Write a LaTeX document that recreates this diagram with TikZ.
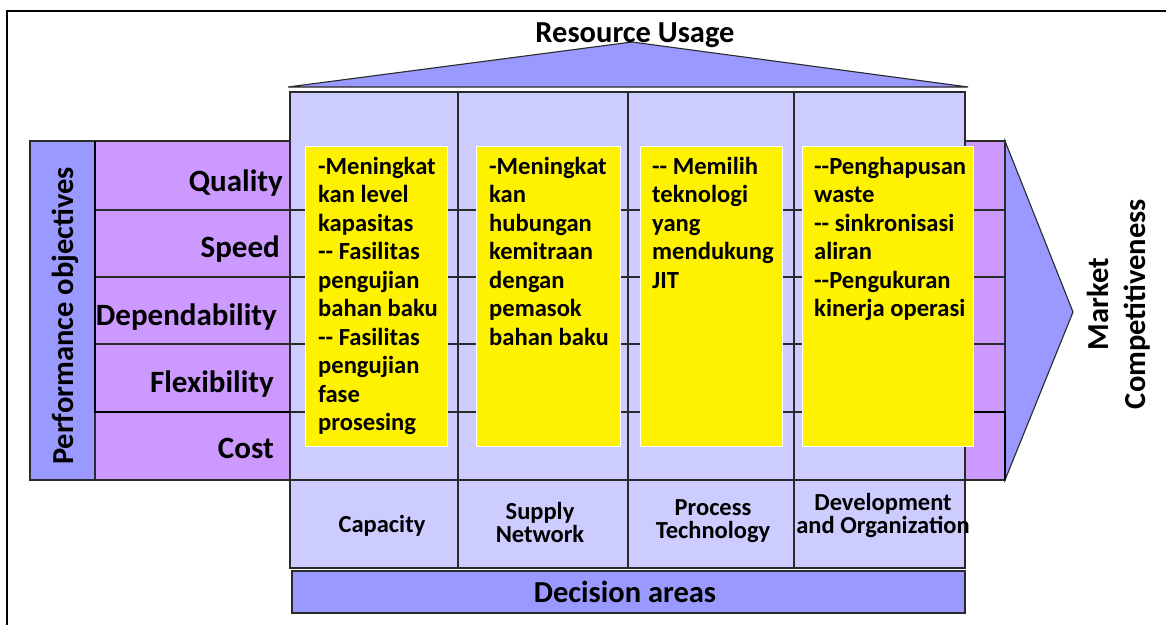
\documentclass[tikz,border=0pt]{standalone}
\usepackage{fontspec}
\setmainfont{Carlito}[Ligatures=TeXOff]
\definecolor{hqblue}{HTML}{9999FF}
\definecolor{hqpurple}{HTML}{CC99FF}
\definecolor{hqlav}{HTML}{CCCCFF}
\definecolor{hqline}{HTML}{2A2A2A}
\begin{document}
\begin{tikzpicture}[x=1pt,y=-1pt,line join=miter,
  edge/.style={draw=hqline,line width=1.1pt},
  heavy/.style={draw=black,line width=2.6pt},
  bigtxt/.style={font=\bfseries\fontsize{30.5}{36}\selectfont,inner sep=0pt},
  rowtxt/.style={font=\bfseries\fontsize{31}{36}\selectfont,inner sep=0pt,anchor=base east},
  notebox/.style={fill=yellow,draw=white,line width=1pt,inner sep=0pt,anchor=north west},
  notetxt/.style={font=\bfseries\fontsize{24.6}{28.5}\selectfont,inner sep=0pt,anchor=north west,align=left},
  areatxt/.style={font=\bfseries\fontsize{24.5}{22.5}\selectfont,inner sep=0pt,align=center,anchor=base}]
\useasboundingbox (0,0) rectangle (1166,624);
\fill[white] (0,0) rectangle (1166,624);

% outer frame (only top and left edges fall inside the page)
\draw[black,line width=1.2pt] (7,640) -- (7,11) -- (1180,11);

% roof
\filldraw[fill=hqblue,edge] (288,87) -- (632,42) -- (968,87) -- cycle;
\node[bigtxt,anchor=base] (roofname) at (635,42) {Resource Usage};

% arrow towards the market
\filldraw[fill=hqblue,edge] (1005,141) -- (1073,312) -- (1005,480) -- cycle;

% performance objective band
\filldraw[fill=hqpurple,edge] (95,141) rectangle (1005,480);
\filldraw[fill=hqblue,edge] (30,141) rectangle (95,480);
\node[bigtxt,rotate=90,anchor=base] (perf) at (73,316) {Performance objectives};

% central body of the house
\filldraw[fill=hqlav,edge] (290,92) rectangle (965,480);

% row separators
\foreach \yy in {210,277,344}
  \draw[edge] (95,\yy) -- (1005,\yy);
\draw[edge] (290,412) -- (965,412);
\draw[heavy] (95,412) -- (290,412);
\draw[heavy] (965,412) -- (1005,412);
\draw[heavy] (95,141) -- (95,413);
\draw[heavy] (1005,411) -- (1005,480);

% column separators
\foreach \xx in {458,628,794}
  \draw[edge] (\xx,92) -- (\xx,568);

% row labels
\node[rowtxt] (quality) at (283,191) {Quality};
\node[rowtxt] (speed) at (280,257) {Speed};
\node[rowtxt] (depend) at (277,325) {Dependability};
\node[rowtxt] (flex) at (274,392) {Flexibility};
\node[rowtxt] (cost) at (274,458) {Cost};

% yellow note cards
\node[notebox,minimum width=142pt,minimum height=300pt] (cardA) at (305,146) {};
\node[notebox,minimum width=144pt,minimum height=300pt] (cardB) at (476,146) {};
\node[notebox,minimum width=142pt,minimum height=300pt] (cardC) at (640,146) {};
\node[notebox,minimum width=171pt,minimum height=300pt] (cardD) at (802,146) {};

\node[notetxt] (noteA) at (318,157) {-Meningkat\\kan level\\kapasitas\\-- Fasilitas\\pengujian\\bahan baku\\-- Fasilitas\\pengujian\\fase\\prosesing};
\node[notetxt] (noteB) at (489,157) {-Meningkat\\kan\\hubungan\\kemitraan\\dengan\\pemasok\\bahan baku};
\node[notetxt] (noteC) at (652,157) {-- Memilih\\teknologi\\yang\\mendukung\\JIT};
\node[notetxt] (noteD) at (814,157) {--Penghapusan\\waste\\-- sinkronisasi\\aliran\\--Pengukuran\\kinerja operasi};

% decision area cells
\filldraw[fill=hqlav,edge] (290,480) rectangle (965,568);
\foreach \xx in {458,628,794}
  \draw[edge] (\xx,480) -- (\xx,568);
\node[areatxt] (capacity) at (382,532) {Capacity};
\node[areatxt] (supply) at (540,542) {Supply\\Network};
\node[areatxt] (process) at (713,538) {Process\\Technology};
\node[areatxt] (develop) at (883,533) {Development\\and Organization};

% decision areas bar
\filldraw[fill=hqblue,edge] (292,571) rectangle (965,613);
\node[bigtxt,anchor=base] (decision) at (625,602) {Decision areas};

% market competitiveness
\node[bigtxt,rotate=90,anchor=base] (market) at (1108,304) {Market};
\node[bigtxt,rotate=90,anchor=base] (compet) at (1145,304) {Competitiveness};
\end{tikzpicture}
\end{document}
